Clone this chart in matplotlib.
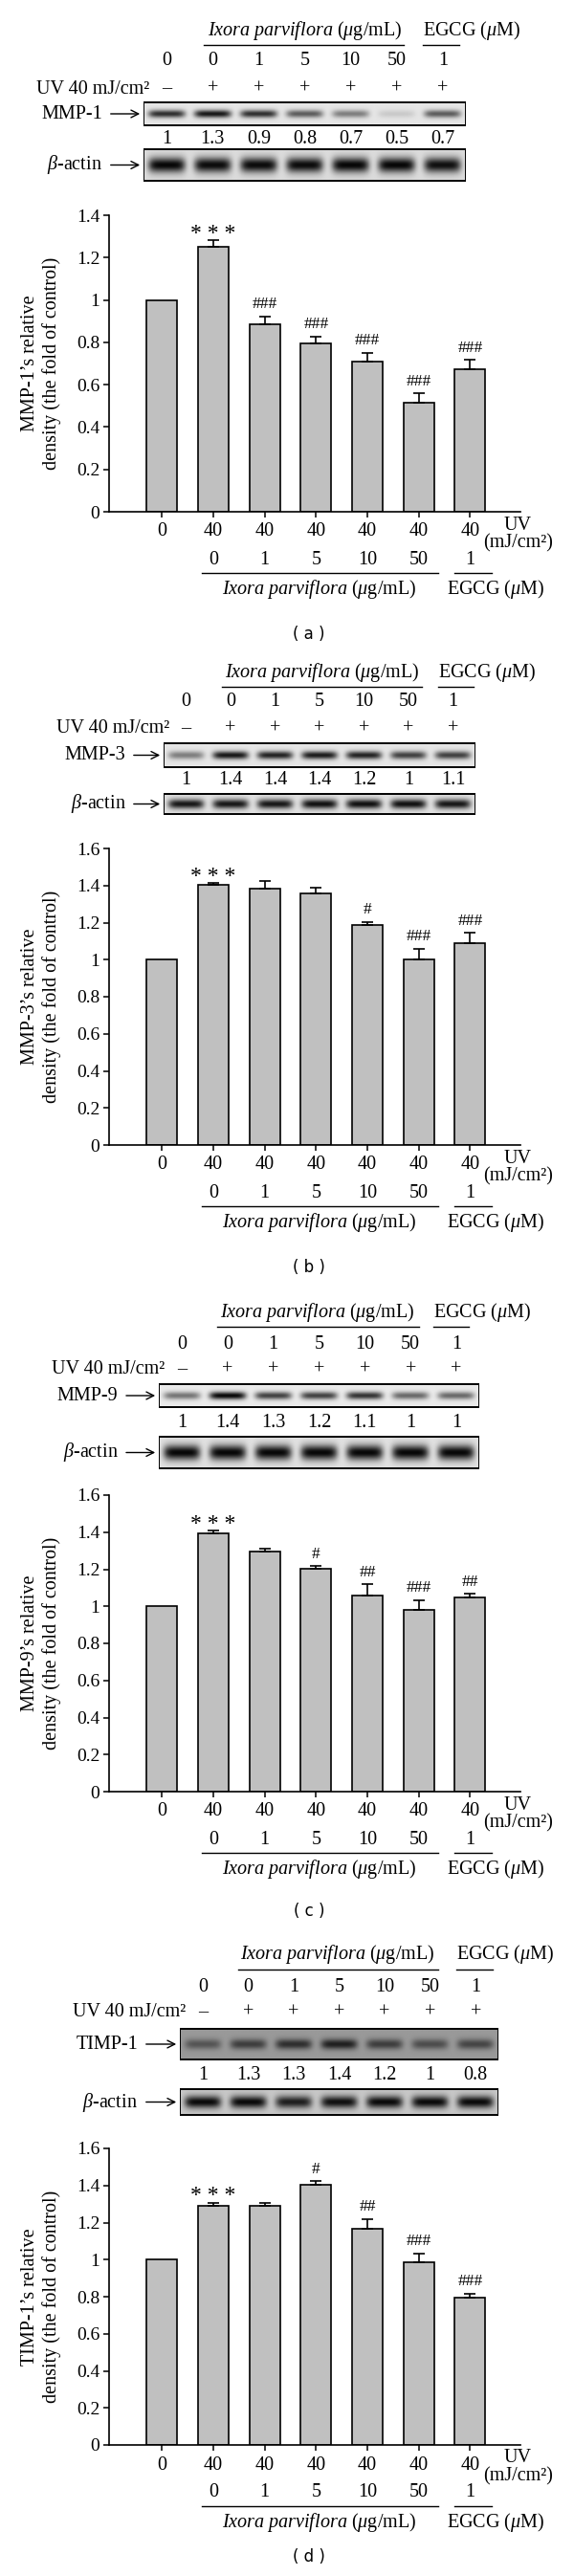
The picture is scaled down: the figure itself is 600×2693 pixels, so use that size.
import numpy as np
import matplotlib
matplotlib.use('Agg')
import matplotlib.pyplot as plt
from matplotlib.patches import Rectangle
from matplotlib.ticker import FuncFormatter, MultipleLocator

plt.rcParams['font.family'] = ['Liberation Serif', 'DejaVu Serif']
plt.rcParams['mathtext.fontset'] = 'custom'
plt.rcParams['mathtext.rm'] = 'Liberation Serif'
plt.rcParams['mathtext.it'] = 'Liberation Serif:italic'
plt.rcParams['mathtext.bf'] = 'Liberation Serif:bold'

W, H = 600, 2693

# ---- data ----
lane_dose = ['0', '0', '1', '5', '10', '50', '1']
lane_uv = ['\u2013', '+', '+', '+', '+', '+', '+']
bar_uv = ['0', '40', '40', '40', '40', '40', '40']
bar_dose = ['', '0', '1', '5', '10', '50', '1']

targets = ['MMP-1', 'MMP-3', 'MMP-9', 'TIMP-1']
ylabels = ['MMP-1\u2019s relative\ndensity (the fold of control)',
           'MMP-3\u2019s relative\ndensity (the fold of control)',
           'MMP-9\u2019s relative\ndensity (the fold of control)',
           'TIMP-1\u2019s relative\ndensity (the fold of control)']
tags = ['( a )', '( b )', '( c )', '( d )']
ytops = [1.4, 1.6, 1.6, 1.6]

mmp1_mean = [1.0, 1.25, 0.885, 0.795, 0.71, 0.515, 0.675]
mmp1_err = [0, 0.033, 0.037, 0.032, 0.04, 0.044, 0.041]
mmp1_sig = ['', '***', '###', '###', '###', '###', '###']
mmp1_fold = ['1', '1.3', '0.9', '0.8', '0.7', '0.5', '0.7']
mmp1_band = [0.8, 0.9, 0.8, 0.6, 0.45, 0.12, 0.6]
mmp1_actin = [0.97, 0.95, 0.95, 0.95, 0.97, 0.97, 0.93]

mmp3_mean = [1.0, 1.404, 1.384, 1.358, 1.189, 1.002, 1.089]
mmp3_err = [0, 0.009, 0.04, 0.029, 0.015, 0.058, 0.055]
mmp3_sig = ['', '***', '', '', '#', '###', '###']
mmp3_fold = ['1', '1.4', '1.4', '1.4', '1.2', '1', '1.1']
mmp3_band = [0.45, 0.9, 0.85, 0.88, 0.85, 0.72, 0.72]
mmp3_actin = [0.9, 0.9, 0.9, 0.93, 0.93, 0.93, 0.9]

mmp9_mean = [1.0, 1.393, 1.293, 1.201, 1.057, 0.982, 1.046]
mmp9_err = [0, 0.015, 0.016, 0.017, 0.062, 0.051, 0.022]
mmp9_sig = ['', '***', '', '#', '##', '###', '##']
mmp9_fold = ['1', '1.4', '1.3', '1.2', '1.1', '1', '1']
mmp9_band = [0.5, 0.97, 0.72, 0.72, 0.78, 0.55, 0.55]
mmp9_actin = [0.97, 0.97, 0.97, 0.97, 0.97, 0.97, 0.97]

timp1_mean = [1.0, 1.291, 1.291, 1.403, 1.164, 0.985, 0.797]
timp1_err = [0, 0.016, 0.016, 0.02, 0.056, 0.049, 0.02]
timp1_sig = ['', '***', '', '#', '##', '###', '###']
timp1_fold = ['1', '1.3', '1.3', '1.4', '1.2', '1', '0.8']
timp1_band = [0.45, 0.6, 0.7, 0.8, 0.6, 0.5, 0.55]
timp1_actin = [0.95, 0.95, 0.85, 0.92, 0.95, 0.95, 0.95]

means = [mmp1_mean, mmp3_mean, mmp9_mean, timp1_mean]
errs = [mmp1_err, mmp3_err, mmp9_err, timp1_err]
sigs = [mmp1_sig, mmp3_sig, mmp9_sig, timp1_sig]
folds = [mmp1_fold, mmp3_fold, mmp9_fold, timp1_fold]
bands = [mmp1_band, mmp3_band, mmp9_band, timp1_band]
actins = [mmp1_actin, mmp3_actin, mmp9_actin, timp1_actin]

# ---- layout (pixels from top-left) ----
layouts = [
    dict(box=(150, 487), head=32, uline=47, dose=63, uv=93, tgt=(107, 131), fold=145,
         act=(156, 189), hc=3.01, ul=(0.81, 5.16), eg=(5.57, 6.36), arrow=-1.27,
         base=535, tag=663, bg=(0.9, 0.86)),
    dict(box=(171, 497), head=703, uline=718, dose=734, uv=762, tgt=(777, 802), fold=816,
         act=(830, 851), hc=3.06, ul=(0.82, 5.3), eg=(5.67, 6.46), arrow=-1.23,
         base=1197, tag=1325, bg=(0.9, 0.88)),
    dict(box=(166, 501), head=1372, uline=1387, dose=1405, uv=1432, tgt=(1447, 1471), fold=1487,
         act=(1502, 1535), hc=2.96, ul=(0.77, 5.18), eg=(5.49, 6.26), arrow=-1.27,
         base=1873, tag=1998, bg=(0.92, 0.88)),
    dict(box=(188, 521), head=2043, uline=2059, dose=2077, uv=2104, tgt=(2121, 2153), fold=2170,
         act=(2184, 2211), hc=2.97, ul=(0.78, 5.17), eg=(5.57, 6.37), arrow=-1.3,
         base=2556, tag=2673, bg=(0.6, 0.78)),
]
AX_LEFT, AX_W, AX_H = 114, 430, 310
FS = 14.5

fig = plt.figure(figsize=(W / 100, H / 100), dpi=100)


def blot(ax, y0, y1, dark, bg, thick):
    xs = np.linspace(-0.5, 6.5, 420)
    ys = np.linspace(0, 1, 60)
    X, Y = np.meshgrid(xs, ys)
    img = np.full(X.shape, bg)
    for i, d in enumerate(dark):
        shape = np.exp(-((X - i) / 0.4) ** 6) * np.exp(-((Y - 0.5) / thick) ** 2)
        img = img * (1 - d * shape)
    ax.imshow(np.clip(img, 0, 1), cmap='gray', vmin=0, vmax=1, aspect='auto',
              extent=(-0.5, 6.5, y1, y0), interpolation='bilinear')
    ax.add_patch(Rectangle((-0.5, y0), 7, y1 - y0, fill=False, lw=1.4, ec='black', zorder=3))


for k in range(4):
    L = layouts[k]
    b0, b1 = L['box']

    # ---- western blot header ----
    la = fig.add_axes([b0 / W, 0, (b1 - b0) / W, 1])
    la.axis('off')
    la.text(L['hc'], L['head'], r'$\mathit{Ixora\ parviflora}$ ($\mu$g/mL)', ha='center',
            va='center', fontsize=FS)
    la.plot(L['ul'], [L['uline']] * 2, color='black', lw=1)
    la.text(L['eg'][0], L['head'], r'EGCG ($\mu$M)', ha='left', va='center', fontsize=FS)
    la.plot(L['eg'], [L['uline']] * 2, color='black', lw=1)
    for i in range(7):
        la.text(i, L['dose'], lane_dose[i], ha='center', va='center', fontsize=FS)
        la.text(i, L['uv'], lane_uv[i], ha='center', va='center', fontsize=FS)
        la.text(i, L['fold'], folds[k][i], ha='center', va='center', fontsize=FS)
    la.text(-0.36, L['uv'], 'UV 40 mJ/cm\u00b2', ha='right', va='center', fontsize=FS)

    t0, t1 = L['tgt']
    a0, a1 = L['act']
    blot(la, t0, t1, bands[k], L['bg'][0], 0.17)
    blot(la, a0, a1, actins[k], L['bg'][1], 0.24)
    for (y0, y1), name in [((t0, t1), targets[k]), ((a0, a1), r'$\beta$-actin')]:
        ym = (y0 + y1) / 2
        la.annotate('', xy=(-0.52, ym), xytext=(L['arrow'], ym),
                    arrowprops=dict(arrowstyle='->', lw=1, color='black', mutation_scale=14),
                    annotation_clip=False)
        la.text(L['arrow'] - 0.12, ym, name, ha='right', va='center', fontsize=FS)
    la.set_xlim(-0.5, 6.5)
    la.set_ylim(H, 0)

    # ---- bar chart ----
    base = L['base']
    ax = fig.add_axes([AX_LEFT / W, 1 - base / H, AX_W / W, AX_H / H])
    x = np.arange(7)
    ax.bar(x, means[k], width=0.6, color='#c0c0c0', edgecolor='black', linewidth=1.2, zorder=2)
    ax.errorbar(x[1:], means[k][1:], yerr=[np.zeros(6), errs[k][1:]], fmt='none',
                ecolor='black', elinewidth=1.2, capsize=4, capthick=1.2, zorder=3)
    for i in range(7):
        if sigs[k][i]:
            top = means[k][i] + errs[k][i]
            if sigs[k][i].startswith('#'):
                ax.annotate(sigs[k][i], xy=(i, top), xytext=(0, 9), textcoords='offset points',
                            ha='center', va='center', fontsize=12.5)
            else:
                ax.annotate(' '.join(sigs[k][i]), xy=(i, top), xytext=(0, 1),
                            textcoords='offset points', ha='center', va='baseline',
                            fontsize=17)
    ax.set_xlim(-1.03, 6.98)
    ax.set_ylim(0, ytops[k])
    ax.yaxis.set_major_locator(MultipleLocator(0.2))
    ax.yaxis.set_major_formatter(FuncFormatter(lambda v, p: '%g' % round(v, 2)))
    ax.set_xticks(x)
    ax.set_xticklabels([])
    ax.tick_params(direction='out', length=4, width=1.1, labelsize=14, pad=3)
    for s in ['top', 'right']:
        ax.spines[s].set_visible(False)
    for s in ['left', 'bottom']:
        ax.spines[s].set_linewidth(1.2)
    ax.text(-0.165, 0.5, ylabels[k], transform=ax.transAxes, rotation=90, ha='center',
            va='center', fontsize=FS, linespacing=1.2)

    lb = fig.add_axes([AX_LEFT / W, 0, AX_W / W, 1])
    lb.axis('off')
    for i in range(7):
        lb.text(i, base + 21, bar_uv[i], ha='center', va='center', fontsize=FS)
        lb.text(i, base + 50, bar_dose[i], ha='center', va='center', fontsize=FS)
    lb.text(6.93, base + 14, 'UV', ha='center', va='center', fontsize=FS)
    lb.text(6.93, base + 33, '(mJ/cm\u00b2)', ha='center', va='center', fontsize=FS)
    lb.plot([0.78, 5.37], [base + 64] * 2, color='black', lw=1)
    lb.plot([5.7, 6.42], [base + 64] * 2, color='black', lw=1)
    lb.text(3.07, base + 81, r'$\mathit{Ixora\ parviflora}$ ($\mu$g/mL)', ha='center',
            va='center', fontsize=FS)
    lb.text(6.5, base + 81, r'EGCG ($\mu$M)', ha='center', va='center', fontsize=FS)
    lb.set_xlim(ax.get_xlim())
    lb.set_ylim(H, 0)

    fig.text(323 / W, 1 - L['tag'] / H, tags[k], ha='center', va='center', fontsize=12,
             family='DejaVu Sans')

fig.savefig('out.png', dpi=100)
